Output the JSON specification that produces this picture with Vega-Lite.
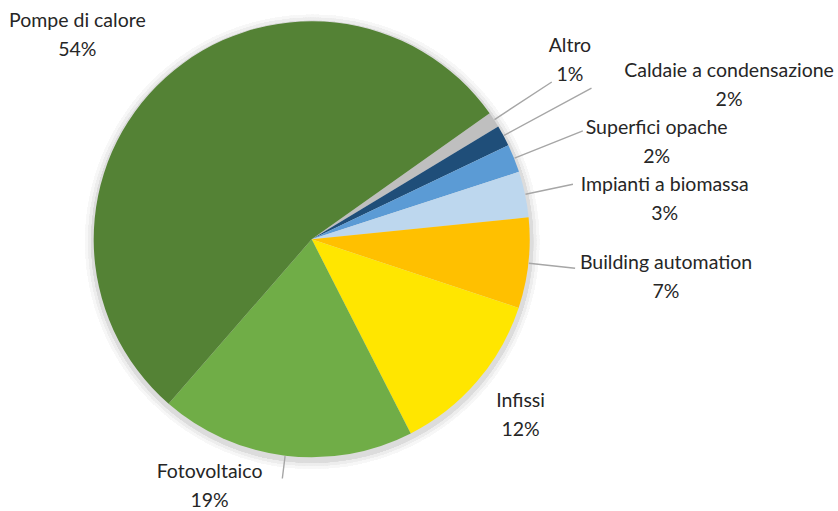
{
  "$schema": "https://vega.github.io/schema/vega-lite/v6.json",
  "width": 623.4,
  "height": 478.6,
  "autosize": "none",
  "padding": {"left": 0, "top": 0, "right": 214.6, "bottom": 32.4},
  "background": "white",
  "config": {"view": {"stroke": null}},
  "data": {
    "values": [
      {"categoria": "Altro", "quota": 0.0115, "ordine": 1},
      {"categoria": "Caldaie a condensazione", "quota": 0.0155, "ordine": 2},
      {"categoria": "Superfici opache", "quota": 0.021, "ordine": 3},
      {"categoria": "Impianti a biomassa", "quota": 0.034, "ordine": 4},
      {"categoria": "Building automation", "quota": 0.067, "ordine": 5},
      {"categoria": "Infissi", "quota": 0.124, "ordine": 6},
      {"categoria": "Fotovoltaico", "quota": 0.189, "ordine": 7},
      {"categoria": "Pompe di calore", "quota": 0.538, "ordine": 8}
    ]
  },
  "layer": [
    {
      "mark": {"type": "arc", "theta": 0, "theta2": 6.2832, "outerRadius": 227, "innerRadius": 0, "fill": "#f7f7f7", "x": {"expr": "width/2 + 0.5"}, "y": {"expr": "height/2 + 2.5"}},
      "encoding": {}
    },
    {
      "mark": {"type": "arc", "theta": 0, "theta2": 6.2832, "outerRadius": 224, "innerRadius": 0, "fill": "#ededed", "x": {"expr": "width/2 + 0.5"}, "y": {"expr": "height/2 + 2.5"}},
      "encoding": {}
    },
    {
      "mark": {"type": "arc", "theta": 0, "theta2": 6.2832, "outerRadius": 221, "innerRadius": 0, "fill": "#dcdcdc", "x": {"expr": "width/2 + 0.5"}, "y": {"expr": "height/2 + 2.5"}},
      "encoding": {}
    },
    {
      "encoding": {
        "theta": {"field": "quota", "type": "quantitative", "stack": true, "scale": {"range": [0.9547, 7.2379]}},
        "order": {"field": "ordine", "type": "quantitative"}
      },
      "layer": [
        {
          "mark": {"type": "arc", "outerRadius": 218},
          "encoding": {
            "color": {
              "field": "categoria",
              "type": "nominal",
              "legend": null,
              "scale": {
                "domain": ["Altro", "Caldaie a condensazione", "Superfici opache", "Impianti a biomassa", "Building automation", "Infissi", "Fotovoltaico", "Pompe di calore"],
                "range": ["#BFBFBF", "#1F4E79", "#5B9BD5", "#BDD7EE", "#FFC000", "#FFE600", "#70AD47", "#548235"]
              }
            }
          }
        },
        {
          "mark": {
            "type": "arc",
            "innerRadius": 218.5,
            "outerRadius": {"expr": "[287, 318, 292, 267, 265, 219, 241, 219][datum.ordine - 1]"},
            "padAngle": 3,
            "fill": "transparent",
            "stroke": "#A6A6A6",
            "strokeWidth": 1.4,
            "strokeOpacity": {"expr": "datum.ordine == 6 || datum.ordine == 8 ? 0 : 1"}
          },
          "encoding": {
            "detail": {"field": "categoria", "type": "nominal"}
          }
        },
        {
          "mark": {
            "type": "text", "radius": 280, "font": "Lato", "fontSize": 19.5, "color": "#262626", "baseline": "middle", "align": "center",
            "dx": {"expr": "[24, 171, 85, 79, 76, -3.5, -68, -46.5][datum.ordine - 1]"},
            "dy": {"expr": "[-25.4, -21, 7, 18, 8, -6, -30.5, 4][datum.ordine - 1] - 14.5"}
          },
          "encoding": {
            "detail": {"field": "categoria", "type": "nominal"},
            "text": {"field": "categoria", "type": "nominal"}
          }
        },
        {
          "mark": {
            "type": "text", "radius": 280, "font": "Lato", "fontSize": 19.5, "color": "#262626", "baseline": "middle", "align": "center",
            "dx": {"expr": "[24, 171, 85, 79, 76, -3.5, -68, -46.5][datum.ordine - 1]"},
            "dy": {"expr": "[-25.4, -21, 7, 18, 8, -6, -30.5, 4][datum.ordine - 1] + 14.5"}
          },
          "encoding": {
            "detail": {"field": "categoria", "type": "nominal"},
            "text": {"field": "quota", "type": "quantitative", "format": ".0%"}
          }
        }
      ]
    }
  ]
}
